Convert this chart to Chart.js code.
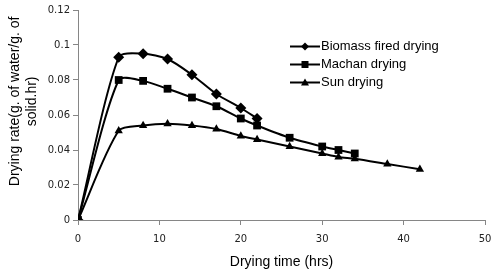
<!DOCTYPE html>
<html>
<head>
<meta charset="utf-8">
<script src="https://cdn.jsdelivr.net/npm/chart.js@4/dist/chart.umd.min.js"></script>
<style>
  html, body { margin: 0; padding: 0; background: #fff; }
  #wrap { width: 500px; height: 277px; position: relative; }
</style>
</head>
<body>
<div id="wrap"><canvas id="dryChart" width="500" height="277"></canvas></div>
<script>
// drying time (hrs) and drying rate (g water / g solid.hr) per method
const biomassTime = [0, 5, 8, 11, 14, 17, 20, 22];
const biomassRate = [0, 0.093, 0.095, 0.092, 0.083, 0.072, 0.064, 0.058];

const machanTime = [0, 5, 8, 11, 14, 17, 20, 22, 26, 30, 32, 34];
const machanRate = [0, 0.080, 0.0795, 0.075, 0.070, 0.065, 0.058, 0.054, 0.047, 0.042, 0.040, 0.038];

const sunTime = [0, 5, 8, 11, 14, 17, 20, 22, 26, 30, 32, 34, 38, 42];
const sunRate = [0, 0.051, 0.054, 0.055, 0.054, 0.052, 0.048, 0.046, 0.042, 0.038, 0.036, 0.035, 0.032, 0.029];

const seriesNames = ['Biomass fired drying', 'Machan drying', 'Sun drying'];
const xTicks = [0, 10, 20, 30, 40, 50];
const yTicks = [0, 0.02, 0.04, 0.06, 0.08, 0.1, 0.12];

const toPoints = (xs, ys) => xs.map((x, i) => ({ x: x, y: ys[i] }));

const axisGray = '#868686';
const markerStyles = ['rectRot', 'rect', 'triangle'];
const markerSizes = [5.5, 5.5, 4.8];
// pushes the rotated y title up a bit, excel had it off-centre
const pad = '\u00a0'.repeat(7);

function makeSet(i, xs, ys) {
    return {
        label: seriesNames[i],
        data: toPoints(xs, ys),
        borderColor: '#000',
        backgroundColor: '#000',
        borderWidth: 2,
        pointStyle: markerStyles[i],
        pointRadius: markerSizes[i],
        pointBorderWidth: 0,
        tension: 0.26,
        fill: false
    };
}

// legend drawn inside the plot, like the excel one
const insideLegend = {
    id: 'insideLegend',
    afterDraw(chart) {
        const ctx = chart.ctx;
        const x0 = 290, x1 = 320, yStart = 46.5, step = 18;
        ctx.save();
        seriesNames.forEach((name, i) => {
            const y = yStart + i * step;
            ctx.strokeStyle = '#000';
            ctx.lineWidth = 2;
            ctx.beginPath();
            ctx.moveTo(x0, y);
            ctx.lineTo(x1, y);
            ctx.stroke();
            const cx = (x0 + x1) / 2;
            ctx.fillStyle = '#000';
            ctx.beginPath();
            if (i === 0) {
                ctx.moveTo(cx, y - 4); ctx.lineTo(cx + 4, y); ctx.lineTo(cx, y + 4); ctx.lineTo(cx - 4, y);
            } else if (i === 1) {
                ctx.rect(cx - 3.5, y - 3.5, 7, 7);
            } else {
                ctx.moveTo(cx, y - 4); ctx.lineTo(cx + 4, y + 3); ctx.lineTo(cx - 4, y + 3);
            }
            ctx.closePath();
            ctx.fill();
            ctx.font = '13px "Liberation Sans", Arial, sans-serif';
            ctx.textBaseline = 'middle';
            ctx.textAlign = 'left';
            ctx.fillText(name, x1 + 1, y);
        });
        ctx.restore();
    }
};

const ctx = document.getElementById('dryChart').getContext('2d');
new Chart(ctx, {
    type: 'line',
    data: {
        datasets: [
            makeSet(0, biomassTime, biomassRate),
            makeSet(1, machanTime, machanRate),
            makeSet(2, sunTime, sunRate)
        ]
    },
    options: {
        responsive: false,
        animation: false,
        layout: { padding: { top: 10, right: 15, left: 0, bottom: 0 } },
        plugins: {
            legend: { display: false },
            tooltip: { enabled: false }
        },
        scales: {
            x: {
                type: 'linear',
                min: 0,
                max: 50,
                afterBuildTicks: (s) => { s.ticks = xTicks.map(v => ({ value: v })); },
                afterFit: (s) => { s.height = 57; },
                border: { color: axisGray, width: 1 },
                grid: { drawOnChartArea: false, drawTicks: true, tickLength: 5, color: axisGray },
                ticks: {
                    color: '#222',
                    padding: 8,
                    font: { family: '"DejaVu Sans", Verdana, sans-serif', size: 10 }
                },
                title: {
                    display: true,
                    text: 'Drying time (hrs)',
                    color: '#000',
                    padding: { top: 4, bottom: 6.5 },
                    font: { family: '"Liberation Sans", Arial, sans-serif', size: 14, lineHeight: 1.2 }
                }
            },
            y: {
                min: 0,
                max: 0.12,
                afterBuildTicks: (s) => { s.ticks = yTicks.map(v => ({ value: v })); },
                afterFit: (s) => { s.width = 78; },
                border: { color: axisGray, width: 1 },
                grid: { drawOnChartArea: false, drawTicks: true, tickLength: 5, color: axisGray },
                ticks: {
                    color: '#222',
                    padding: 3,
                    callback: (v) => String(Math.round(v * 100) / 100),
                    font: { family: '"DejaVu Sans", Verdana, sans-serif', size: 10 }
                },
                title: {
                    display: true,
                    text: [pad + 'Drying rate(g. of water/g. of', pad + 'solid.hr)'],
                    color: '#000',
                    padding: { top: 6.5, bottom: 2 },
                    font: { family: '"Liberation Sans", Arial, sans-serif', size: 14, lineHeight: 1.2 }
                }
            }
        }
    },
    plugins: [insideLegend]
});
</script>
</body>
</html>
